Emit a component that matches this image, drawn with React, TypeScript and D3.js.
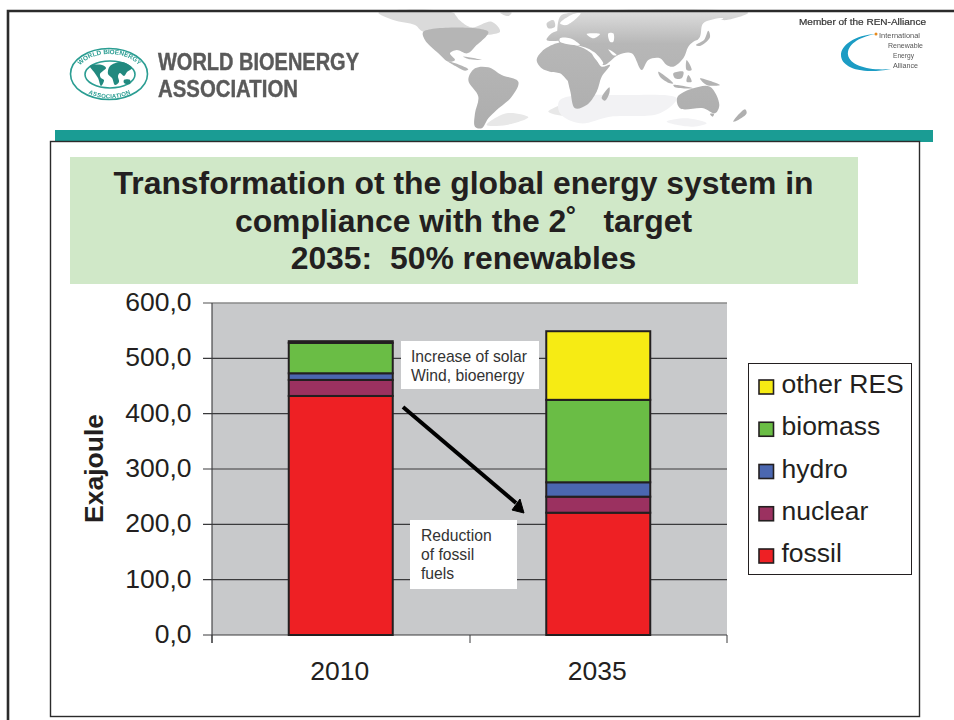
import React, { useEffect, useRef } from "react";
import * as d3 from "d3";

const years = ["2010", "2035"];
const seriesNames = ["fossil", "nuclear", "hydro", "biomass", "other RES"];
const seriesColors = ["#ee2024", "#9b3160", "#4b67b0", "#6abd45", "#f6eb14"];
const fossil = [432, 221];
const nuclear = [29, 29];
const hydro = [12, 26];
const biomass = [55, 149];
const otherRes = [3, 124];
const yTicks = [0, 100, 200, 300, 400, 500, 600];
const titleLines = [
  "Transformation ot the global energy system in",
  "compliance with the 2\u02da\u00a0\u00a0 target",
  "2035:\u00a0\u00a050% renewables",
];

// header artwork outlines, in their own local space
const canada = "55,8 280,8 298,30 335,52 395,35 420,65 190,65 165,45 100,30";
const hudson = "285,12 330,10 348,18 332,45 312,36";
const mapWestGrey = [
  "190,65 385,65 345,110 322,130 290,120 270,130 285,150 265,155 235,130 195,90",
  "265,155 300,165 325,178 315,182 290,170",
  "310,140 365,150 330,148",
  "325,210 345,175 385,172 425,195 475,215 455,260 410,300 385,325 365,355 345,350 345,310 355,260",
  "420,8 455,8 445,18",
  "530,150 545,125 590,100 630,100 630,215 600,190 570,185 545,175",
  "560,90 575,70 600,60 630,45 630,90 600,92",
  "560,40 580,30 585,50 565,55",
];
const mapWestPale = [
  "380,345 440,310 505,322 440,345",
  "565,305 630,280 630,315",
];
const mapEastGrey = [
  "0,20 30,8 565,8 500,30 470,30 440,55 450,75 400,95 385,110 370,145 340,170 320,165 300,145 265,150 245,180 215,130 175,135 130,165 100,125 50,105 0,100",
  "0,105 60,110 100,135 125,170 150,165 125,200 110,245 80,285 45,295 30,240 15,190 0,180",
  "295,185 340,220 330,220 300,200",
  "340,190 370,185 365,205 345,205",
  "385,195 395,215 380,215",
  "340,225 400,235 345,232",
  "420,205 480,225 440,225",
  "380,150 395,180 380,180",
  "125,265 148,232 148,250 135,272",
  "352,262 400,235 450,230 478,285 465,310 430,295 360,295",
  "450,312 462,312 458,320",
  "520,335 555,298 560,310 535,330",
];
const mapEastSeas = [
  "0,85 30,85 60,105 0,95",
  "80,72 120,72 100,85",
  "145,70 160,70 160,95 150,95",
  "0,40 40,12 62,10 20,45",
  "100,125 130,160 125,165 97,132",
  "145,118 170,135 160,136",
  "430,40 490,25 460,45 445,85 400,105 420,80",
];
const mapEastIslands = ["408,105 432,90 445,62 450,82 420,108"];
const mapEastPale = [
  "0,270 200,255 350,265 300,310 150,320 60,340 0,310",
  "320,335 380,325 440,340 400,350",
];
const logoLand = [
  "90,66 102,65 106,68 100,74 101,78 104,80 101,86 98,78 94,72",
  "110,66 122,62 132,68 127,72 124,76 120,73 118,76 119,82 115,85 112,78 108,74",
  "124,80 130,80 130,84 124,83",
];

const outline = d3.line().curve(d3.curveCatmullRomClosed.alpha(0.5));
const smooth = (s: string) =>
  outline(s.split(" ").map((p) => p.split(",").map(Number) as [number, number])) as string;

export default function App() {
  const ref = useRef<SVGGElement | null>(null);

  useEffect(() => {
    const g = d3.select(ref.current!);
    g.selectAll("*").remove();

    const x = d3.scaleBand<string>().domain(years).range([212, 727]);
    const y = d3.scaleLinear().domain([0, 600]).range([635, 303]);
    const barW = 104;
    const FS = 26.5;

    g.append("rect")
      .attr("x", 212).attr("y", y(600))
      .attr("width", 515).attr("height", y(0) - y(600))
      .attr("fill", "#c8c9cb");

    yTicks.forEach((t) => {
      g.append("line")
        .attr("x1", 203).attr("x2", 727)
        .attr("y1", y(t)).attr("y2", y(t))
        .attr("stroke", t === 600 ? "#8a8a8a" : "#3a3a3c")
        .attr("stroke-width", t === 600 ? 1.6 : 1.1);
      g.append("text")
        .attr("x", 191.5).attr("y", y(t) + 8)
        .attr("text-anchor", "end")
        .attr("font-family", "Liberation Sans")
        .attr("font-size", FS)
        .attr("fill", "#231f20")
        .text(d3.format(".1f")(t).replace(".", ","));
    });
    g.append("line").attr("x1", 212).attr("x2", 212).attr("y1", y(600)).attr("y2", 643)
      .attr("stroke", "#3a3a3c").attr("stroke-width", 1.1);
    [212, 470, 727].forEach((px) => {
      g.append("line").attr("x1", px).attr("x2", px).attr("y1", 635).attr("y2", 643)
        .attr("stroke", "#3a3a3c").attr("stroke-width", 1);
    });

    const rows = years.map((yr, i) => ({
      year: yr,
      fossil: fossil[i], nuclear: nuclear[i], hydro: hydro[i], biomass: biomass[i], "other RES": otherRes[i],
    }));
    const stacked = d3.stack<any>().keys(seriesNames)(rows);
    stacked.forEach((s, si) => {
      s.forEach((d: any) => {
        g.append("rect")
          .attr("x", x(d.data.year)! + x.bandwidth() / 2 - barW / 2)
          .attr("y", y(d[1]))
          .attr("width", barW)
          .attr("height", y(d[0]) - y(d[1]))
          .attr("fill", seriesColors[si])
          .attr("stroke", "#231f20")
          .attr("stroke-width", 2);
      });
    });

    years.forEach((yr) => {
      g.append("text")
        .attr("x", x(yr)! + x.bandwidth() / 2 - 1).attr("y", 680)
        .attr("text-anchor", "middle")
        .attr("font-family", "Liberation Sans")
        .attr("font-size", FS)
        .attr("fill", "#231f20")
        .text(yr);
    });

    g.append("text")
      .attr("transform", "translate(103,468.5) rotate(-90)")
      .attr("text-anchor", "middle")
      .attr("font-family", "Liberation Sans")
      .attr("font-weight", "bold")
      .attr("font-size", FS)
      .attr("fill", "#231f20")
      .text("Exajoule");

    g.append("rect")
      .attr("x", 748.5).attr("y", 363.5).attr("width", 163).attr("height", 211)
      .attr("fill", "#fff").attr("stroke", "#231f20").attr("stroke-width", 1);
    const legendY = d3.scalePoint<string>()
      .domain([...seriesNames].reverse())
      .range([385, 554]);
    seriesNames.forEach((n, i) => {
      const ly = legendY(n)!;
      g.append("rect")
        .attr("x", 759).attr("y", ly - 5).attr("width", 14.5).attr("height", 14)
        .attr("fill", seriesColors[i]).attr("stroke", "#231f20").attr("stroke-width", 1.6);
      g.append("text")
        .attr("x", 781.5).attr("y", ly + 8)
        .attr("font-family", "Liberation Sans")
        .attr("font-size", FS)
        .attr("fill", "#231f20")
        .text(n);
    });
  }, []);

  const chipFont = { fontFamily: "Liberation Sans", fontSize: 15.7, fill: "#333" };

  return (
    <svg width={954} height={720} style={{ position: "absolute", left: 0, top: 0, background: "#fff" }}>
      <defs>
        <filter id="soft" x="-5%" y="-5%" width="110%" height="110%"><feGaussianBlur stdDeviation="0.6" /></filter>
        <filter id="soft2" x="-5%" y="-5%" width="110%" height="110%"><feGaussianBlur stdDeviation="0.3" /></filter>
        <linearGradient id="mapFade" gradientUnits="userSpaceOnUse" x1="0" y1="0" x2="0" y2="360">
          <stop offset="0" stopColor="#dedede" />
          <stop offset="0.28" stopColor="#b7b7b7" />
          <stop offset="1" stopColor="#adadad" />
        </linearGradient>
        <path id="ringTop" d="M76,76 A33.5,22 0 0 1 143,76" />
        <path id="ringBot" d="M78,78 A32,21 0 0 0 141,78" />
      </defs>

      {/* header artwork */}
      <g filter="url(#soft)">
        <g transform="translate(360,10) scale(0.3333)">
          {mapWestPale.map((d, i) => <path key={i} d={smooth(d)} fill="#e8e8e8" />)}
          <path d={smooth(canada)} fill="#dadada" />
          {mapWestGrey.map((d, i) => <path key={i} d={smooth(d)} fill={i === 0 ? "#b5b5b5" : "url(#mapFade)"} />)}
          <path d={smooth(hudson)} fill="#fff" />
        </g>
        <g transform="translate(560,10) scale(0.3333)">
          {mapEastPale.map((d, i) => <path key={i} d={smooth(d)} fill="#f2f2f4" />)}
          {mapEastGrey.map((d, i) => <path key={i} d={smooth(d)} fill="url(#mapFade)" />)}
          {mapEastSeas.map((d, i) => <path key={i} d={smooth(d)} fill="#fff" />)}
          {mapEastIslands.map((d, i) => <path key={i} d={smooth(d)} fill="#b5b5b5" />)}
        </g>
      </g>

      {/* logo */}
      <g filter="url(#soft2)">
        <ellipse cx={109} cy={74} rx={38.5} ry={25.5} fill="#fff" stroke="#2a9d92" strokeWidth={1.6} />
        <ellipse cx={110} cy={74.5} rx={25} ry={13.5} fill="#fff" stroke="#2a9d92" strokeWidth={1.6} />
        {logoLand.map((d, i) => <path key={i} d={smooth(d)} fill="#23897f" />)}
        <text fontFamily="Liberation Sans" fontWeight="bold" fontSize={6.4} fill="#2a9d92">
          <textPath href="#ringTop" startOffset="50%" textAnchor="middle">WORLD BIOENERGY</textPath>
        </text>
        <text fontFamily="Liberation Sans" fontWeight="bold" fontSize={6} fill="#2a9d92" dy={3}>
          <textPath href="#ringBot" startOffset="50%" textAnchor="middle">ASSOCIATION</textPath>
        </text>
        <text x={158} y={70} fontFamily="Liberation Sans" fontWeight="bold" fontSize={23} fill="#5a5a5a" stroke="#5a5a5a" strokeWidth={0.4} textLength={201} lengthAdjust="spacingAndGlyphs">WORLD BIOENERGY</text>
        <text x={158} y={97} fontFamily="Liberation Sans" fontWeight="bold" fontSize={23} fill="#5a5a5a" stroke="#5a5a5a" strokeWidth={0.4} textLength={140} lengthAdjust="spacingAndGlyphs">ASSOCIATION</text>
        <text x={799} y={25} fontFamily="Liberation Sans" fontSize={9.5} fill="#333" stroke="#333" strokeWidth={0.2} textLength={127} lengthAdjust="spacingAndGlyphs">Member of the REN-Alliance</text>
        <path d="M876,34 C855,35 841,45 841,55 C841,67 860,75 891,69 C870,71 850,66 848,55 C847,45 858,37 876,34Z" fill="#1a9cc4" />
        <circle cx={876} cy={34} r={1.5} fill="#e88a1d" />
        <g fontFamily="Liberation Sans" fontSize={6.5} fill="#555">
          <text x={879} y={38} textLength={41} lengthAdjust="spacingAndGlyphs">International</text>
          <text x={888} y={47.5} textLength={35} lengthAdjust="spacingAndGlyphs">Renewable</text>
          <text x={893} y={57.5} textLength={21} lengthAdjust="spacingAndGlyphs">Energy</text>
          <text x={893} y={68} textLength={25} lengthAdjust="spacingAndGlyphs">Alliance</text>
        </g>
      </g>

      {/* slide frames */}
      <path d="M8,720 L8,11 L954,11" fill="none" stroke="#2b2b2b" strokeWidth={2.6} />
      <rect x={55} y={130} width={878} height={12} fill="#1a9c94" />
      <rect x={50.5} y={141.5} width={869} height={575} fill="#fff" stroke="#2b2b2b" strokeWidth={1.4} />
      <rect x={70} y={157} width={788} height={127} fill="#d0e8c8" />
      {titleLines.map((t, i) => (
        <text key={i} x={463.5} y={[194, 232, 269][i]} textAnchor="middle"
          fontFamily="Liberation Sans" fontWeight="bold" fontSize={31.9} fill="#231f20">{t}</text>
      ))}

      <g ref={ref} />

      {/* annotations */}
      <rect x={401} y={341} width={138} height={48} fill="#fff" />
      <text x={411} y={362} {...chipFont}>Increase of solar</text>
      <text x={411} y={381} {...chipFont}>Wind, bioenergy</text>
      <rect x={410} y={520} width={107} height={69} fill="#fff" />
      <g fontFamily="Liberation Sans" fontSize={15.7} fill="#333">
        <text x={421} y={541}>Reduction</text>
        <text x={421} y={560}>of fossil</text>
        <text x={421} y={579}>fuels</text>
      </g>
      <line x1={403} y1={407} x2={516} y2={503} stroke="#000" strokeWidth={4} />
      <path d="M524,513 L512,510 L520,499Z" fill="#000" stroke="#000" />
    </svg>
  );
}
